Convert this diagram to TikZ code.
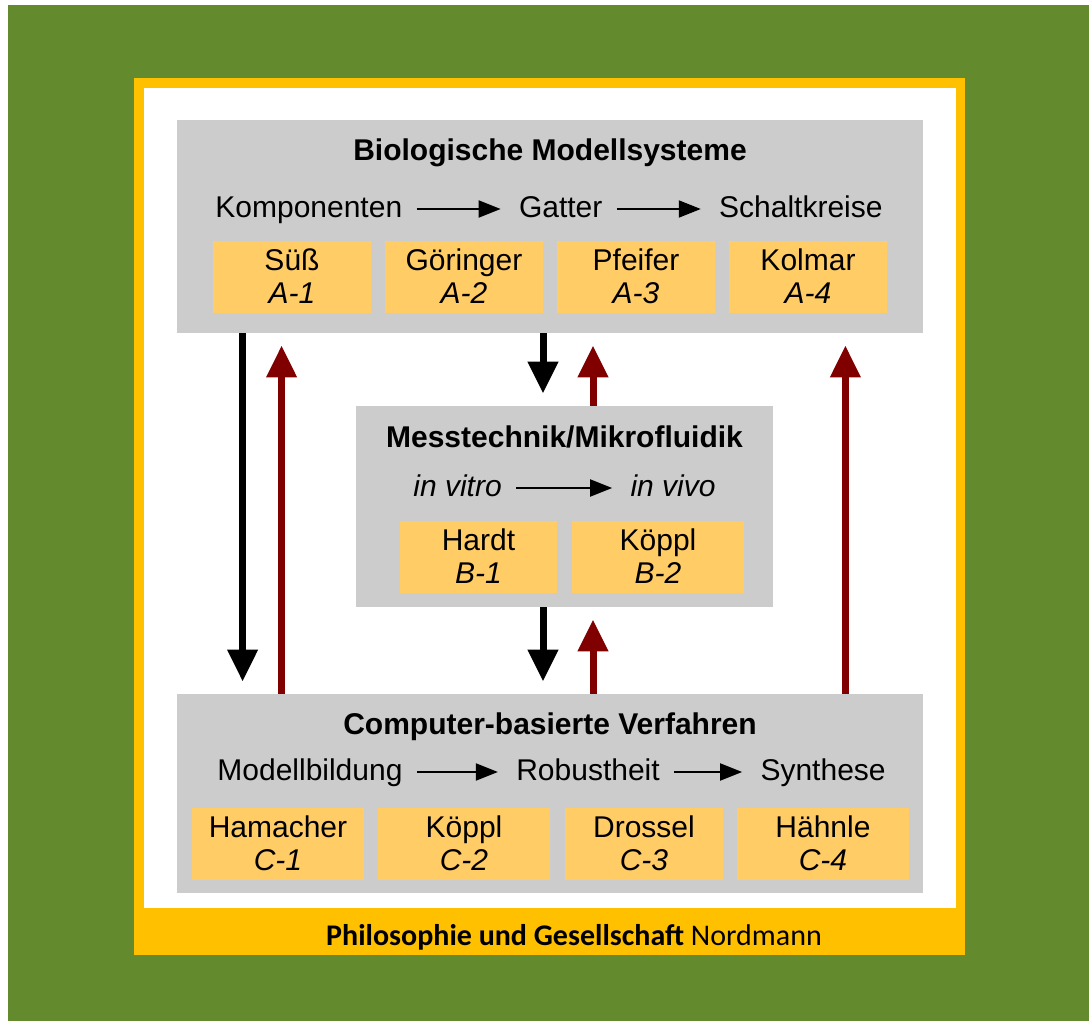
\documentclass[tikz,border=0pt]{standalone}
\usepackage{fontspec}
\setmainfont{Liberation Sans}
\newfontfamily\footfont{Carlito}
\usetikzlibrary{positioning,arrows.meta}

\definecolor{leaf}{RGB}{99,138,44}
\definecolor{gold}{RGB}{255,192,0}
\definecolor{panelgray}{RGB}{204,204,204}
\definecolor{tilegold}{RGB}{255,204,102}
\definecolor{backred}{RGB}{128,0,0}

% one project tile: name, x, y, width, person, code
\newcommand\projtile[6]{%
  \node[tilebox,minimum width=#4] (#1) at (#2,#3) {};
  \node[tiletxt] (#1n) at ([yshift=3pt]#1.center) {#5};
  \node[tiletxt] (#1c) at ([yshift=-13.5pt]#1.center) {\itshape #6};
}

\begin{document}
\begin{tikzpicture}[x=0.5pt,y=-0.5pt,node distance=58pt,
  panel/.style={fill=panelgray,inner sep=0,minimum width=373pt},
  tilebox/.style={fill=tilegold,inner sep=0,minimum height=36pt},
  tiletxt/.style={anchor=base,inner sep=0,font=\fontsize{15}{18}\selectfont},
  head/.style={anchor=base,inner sep=0,font=\fontsize{15}{18}\selectfont\bfseries},
  row/.style={inner sep=0,text height=12pt,text depth=3pt,font=\fontsize{15}{18}\selectfont},
  rowit/.style={row,font=\fontsize{15}{18}\selectfont\itshape},
  flow/.style={-{Triangle[width=8.5pt,length=11pt]},line width=1pt,shorten <=7pt,shorten >=9pt},
  down/.style={-{Triangle[width=14.5pt,length=16pt]},line width=3.5pt,black,shorten >=6pt},
  up/.style={-{Triangle[width=14.5pt,length=16pt]},line width=3.5pt,backred,shorten >=6pt}]

\useasboundingbox (0,0) rectangle (1089,1021);
\fill[white] (0,0) rectangle (1089,1021);
\fill[leaf] (8,5) rectangle (1089,1021);
\fill[gold] (134,78) rectangle (965,955);
\fill[white] (144,88) rectangle (956,908);

% panels
\node[panel,minimum height=106.5pt] (bio) at (550,226.5) {};
\node[panel,minimum width=208.5pt,minimum height=100.5pt] (mess) at (564.5,506.5) {};
\node[panel,minimum height=99.5pt] (comp) at (550,793.5) {};

% biology
\node[head] (biot) at (550,161) {Biologische Modellsysteme};
\node[row,anchor=west] (komp) at (215,209) {Komponenten};
\node[row,right=of komp] (gat) {Gatter};
\node[row,right=of gat] (schalt) {Schaltkreise};
\draw[flow] (komp) -- (gat);
\draw[flow] (gat) -- (schalt);
\projtile{a1}{292}{277}{79pt}{Süß}{A-1}
\projtile{a2}{464}{277}{79pt}{Göringer}{A-2}
\projtile{a3}{636}{277}{79pt}{Pfeifer}{A-3}
\projtile{a4}{808}{277}{79pt}{Kolmar}{A-4}

% measurement
\node[head] (messt) at (564.5,448) {Messtechnik/Mikrofluidik};
\node[rowit,anchor=west] (vitro) at (413,488) {in vitro};
\node[rowit,right=64pt of vitro] (vivo) {in vivo};
\draw[flow] (vitro) -- (vivo);
\projtile{b1}{478.5}{557}{78.5pt}{Hardt}{B-1}
\projtile{b2}{658}{557}{86pt}{Köppl}{B-2}

% computing
\node[head] (compt) at (550,735) {Computer-basierte Verfahren};
\node[row,anchor=west] (modb) at (217,772) {Modellbildung};
\node[row,right=56.5pt of modb] (rob) {Robustheit};
\node[row,right=50pt of rob] (syn) {Synthese};
\draw[flow] (modb) -- (rob);
\draw[flow] (rob) -- (syn);
\projtile{c1}{278}{844}{86pt}{Hamacher}{C-1}
\projtile{c2}{464}{844}{86pt}{Köppl}{C-2}
\projtile{c3}{644}{844}{79pt}{Drossel}{C-3}
\projtile{c4}{823}{844}{86pt}{Hähnle}{C-4}

% links between panels
\coordinate (dl) at ([xshift=-3.5pt]bio.south);
\coordinate (ul) at ([xshift=21.5pt]bio.south);
\draw[down] ([xshift=33pt]bio.south west) -- ([xshift=33pt]comp.north west);
\draw[up] ([xshift=52.5pt]comp.north west) -- ([xshift=52.5pt]bio.south west);
\draw[down] (dl) -- (dl |- mess.north);
\draw[up] (ul |- mess.north) -- (ul);
\draw[down] (dl |- mess.south) -- (dl |- comp.north);
\draw[up] (ul |- comp.north) -- (ul |- mess.south);
\draw[up] ([xshift=-39pt]comp.north east) -- ([xshift=-39pt]bio.south east);

\node[anchor=base,inner sep=0,font=\footfont\fontsize{15}{18}\selectfont] (credit) at (574,946)
  {\bfseries Philosophie und Gesellschaft \mdseries Nordmann};
\end{tikzpicture}
\end{document}
